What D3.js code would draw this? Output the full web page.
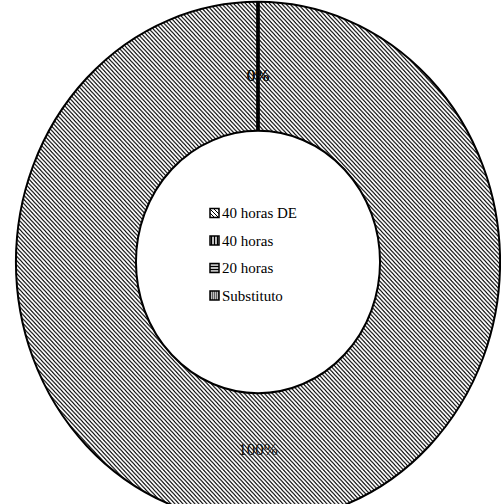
<!DOCTYPE html>
<html>
<head>
<meta charset="utf-8">
<script src="https://cdn.jsdelivr.net/npm/d3@7"></script>
<style>
  body { margin: 0; background: #fff; }
  text { font-family: "Liberation Serif", "Times New Roman", serif; }
</style>
</head>
<body>
<div id="chart"></div>
<script>
var width = 501, height = 504;

// chart data
var categories = ["40 horas DE", "40 horas", "20 horas", "Substituto"];
var values = [100, 0, 0, 0];
var pctLabels = ["100%", "0%", "0%", "0%"];

var cx = 258, cy = 262, sy = 1.075;
var outerR = 242, innerR = 122, labelR = 174;

var svg = d3.select("#chart").append("svg")
    .attr("width", width)
    .attr("height", height);

var defs = svg.append("defs");

// fill patterns, one per category
function addPattern(id, size, d, sw) {
  var p = defs.append("pattern")
      .attr("id", id)
      .attr("patternUnits", "userSpaceOnUse")
      .attr("width", size).attr("height", size);
  p.append("rect").attr("width", size).attr("height", size).attr("fill", "#fff");
  p.append("path").attr("d", d).attr("stroke", "#000").attr("stroke-width", sw).attr("fill", "none");
}
addPattern("p0", 4, "M-1,-1L5,5M3,-1L5,1M-1,3L1,5", 1);
addPattern("p1", 3, "M1.5,0V3", 1.5);
addPattern("p2", 3, "M0,1.5H3", 1.5);
addPattern("p3", 2, "M0,0H2M0,0V2", 1);

var pie = d3.pie().sort(null).value(function(d){ return d; });
var arcs = pie(values);

var arc = d3.arc().innerRadius(innerR).outerRadius(outerR);
var labelArc = d3.arc().innerRadius(labelR).outerRadius(labelR);

var g = svg.append("g")
    .attr("transform", "translate(" + cx + "," + cy + ") scale(1," + sy + ")");

g.selectAll("path.slice")
    .data(arcs)
    .enter().append("path")
    .attr("class", "slice")
    .attr("d", arc)
    .attr("fill", function(d, i){ return "url(#p" + i + ")"; })
    .attr("stroke", "#000")
    .attr("stroke-width", function(d){ return d.value === 0 ? 3 : 2; })
    .attr("vector-effect", "non-scaling-stroke");

// percentage labels
svg.selectAll("text.pct")
    .data(arcs)
    .enter().append("text")
    .attr("class", "pct")
    .attr("x", function(d){ return cx + labelArc.centroid(d)[0]; })
    .attr("y", function(d){ return cy + labelArc.centroid(d)[1] * sy; })
    .attr("dy", "0.35em")
    .attr("text-anchor", "middle")
    .attr("font-size", 17)
    .attr("fill", "#111")
    .text(function(d, i){ return pctLabels[i]; });

// legend in the hole
var legend = svg.append("g").attr("transform", "translate(210,213)");
var item = legend.selectAll("g")
    .data(categories)
    .enter().append("g")
    .attr("transform", function(d, i){ return "translate(0," + i * 27.5 + ")"; });

item.append("rect")
    .attr("x", 0).attr("y", -4.5)
    .attr("width", 9).attr("height", 9)
    .attr("fill", function(d, i){ return "url(#p" + i + ")"; })
    .attr("stroke", "#000")
    .attr("stroke-width", 1.5);

item.append("text")
    .attr("x", 12)
    .attr("dy", "0.35em")
    .attr("font-size", 15)
    .attr("fill", "#000")
    .text(function(d){ return d; });
</script>
</body>
</html>
